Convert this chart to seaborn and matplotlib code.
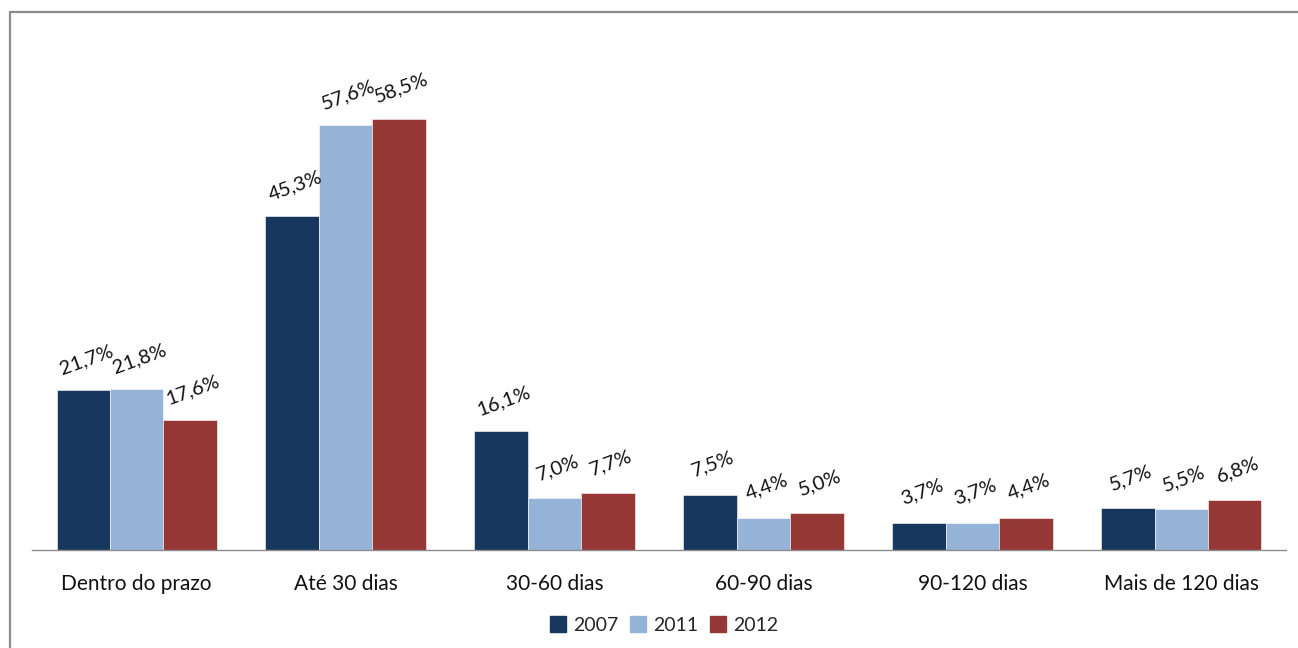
import matplotlib
matplotlib.use("Agg")
import matplotlib.pyplot as plt
from matplotlib.lines import Line2D
import seaborn as sns
import pandas as pd

categories = ["Dentro do prazo", "Até 30 dias", "30-60 dias", "60-90 dias", "90-120 dias", "Mais de 120 dias"]
years = ["2007", "2011", "2012"]
values_2007 = [21.7, 45.3, 16.1, 7.5, 3.7, 5.7]
values_2011 = [21.8, 57.6, 7.0, 4.4, 3.7, 5.5]
values_2012 = [17.6, 58.5, 7.7, 5.0, 4.4, 6.8]
colors = ["#17375E", "#95B3D7", "#953735"]

df = pd.DataFrame({
    "categoria": categories * 3,
    "ano": [y for y in years for _ in categories],
    "valor": values_2007 + values_2011 + values_2012,
})

sns.set_theme(style="white")
plt.rcParams["font.family"] = ["Lato", "DejaVu Sans"]

fig = plt.figure(figsize=(12.98, 6.48), dpi=100)
ax = fig.add_axes([0.0247, 0.1512, 0.966, 0.7963])

sns.barplot(data=df, x="categoria", y="valor", hue="ano", order=categories,
            hue_order=years, palette=colors, width=0.766, saturation=1,
            edgecolor="white", linewidth=0.4, ax=ax, legend=False)

ax.set_ylim(0, 70)
ax.set_xlim(-0.5, len(categories) - 0.5)
ax.set_xlabel("")
ax.set_ylabel("")
ax.set_yticks([])
for side in ["top", "right", "left"]:
    ax.spines[side].set_visible(False)
ax.spines["bottom"].set_color("#8C8C8C")
ax.spines["bottom"].set_linewidth(1.0)

# category labels centred under groups, tick marks between groups
ax.set_xticks(range(len(categories)))
ax.set_xticklabels(categories, fontsize=15, color="#111111")
ax.tick_params(axis="x", which="major", length=0, pad=17)
ax.set_xticks([i - 0.5 for i in range(len(categories) + 1)], minor=True)
ax.tick_params(axis="x", which="minor", length=7, width=1, color="#8C8C8C", direction="out")

for container in ax.containers:
    for bar, v in zip(container, container.datavalues):
        label = f"{v:.1f}%".replace(".", ",")
        ax.annotate(label, (bar.get_x() + bar.get_width() / 2, v),
                    xytext=(2, 22), textcoords="offset points",
                    ha="center", va="center", rotation=20,
                    rotation_mode="anchor", fontsize=14.5, color="#111111")

handles = [Line2D([0], [0], marker="s", linestyle="none", markersize=11.5,
                  markerfacecolor=c, markeredgecolor=c) for c in colors]
fig.legend(handles, years, loc="center", bbox_to_anchor=(0.511, 0.035), ncol=3,
           frameon=False, fontsize=14, handletextpad=0.25, columnspacing=0.55,
           handlelength=1.0)

# chart frame lines
fig.add_artist(Line2D([10 / 1298, 10 / 1298], [0, 1 - 12 / 648],
                      transform=fig.transFigure, color="#8C8C8C", linewidth=1.6))
fig.add_artist(Line2D([10 / 1298, 1], [1 - 12 / 648, 1 - 12 / 648],
                      transform=fig.transFigure, color="#8C8C8C", linewidth=1.6))

fig.savefig("out.png", dpi=100, facecolor="white")
